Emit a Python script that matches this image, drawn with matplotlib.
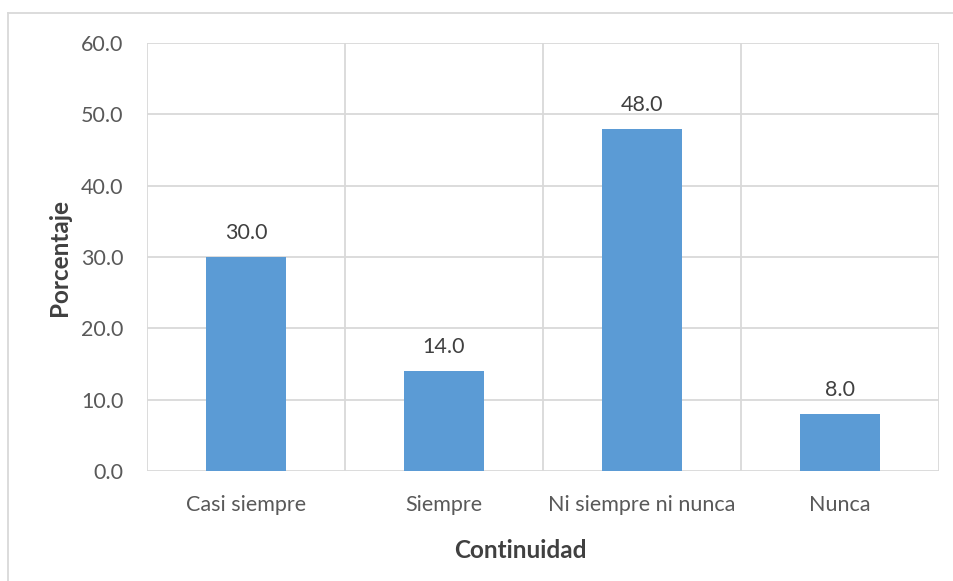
import matplotlib
matplotlib.use("Agg")
import matplotlib.pyplot as plt
from matplotlib.lines import Line2D

categories = ["Casi siempre", "Siempre", "Ni siempre ni nunca", "Nunca"]
percentages = [30.0, 14.0, 48.0, 8.0]
y_ticks = [0, 10, 20, 30, 40, 50, 60]

plt.rcParams["font.family"] = ["Lato", "DejaVu Sans"]
text_color = "#595959"
grid_color = "#d9d9d9"

figure = plt.figure(figsize=(9.54, 5.81), dpi=100)
axes = figure.add_axes([147 / 954, 1 - 471 / 581, 792 / 954, 428 / 581])

x = range(len(categories))
bars = axes.bar(x, percentages, width=0.4, color="#5b9bd5", zorder=3)

for bar, value in zip(bars, percentages):
    axes.annotate(f"{value:.1f}", (bar.get_x() + bar.get_width() / 2, value),
                  xytext=(0, 10), textcoords="offset points",
                  ha="center", va="bottom", fontsize=15.5, color="#404040")

axes.set_xlim(-0.5, len(categories) - 0.5)
axes.set_ylim(0, 60)
axes.set_yticks(y_ticks)
axes.set_yticklabels([f"{t:.1f}" for t in y_ticks])
axes.set_xticks(list(x))
axes.set_xticklabels(categories)

# vertical separators between categories
for boundary in [i + 0.5 for i in range(-1, len(categories))]:
    axes.axvline(boundary, color=grid_color, linewidth=1.3, zorder=1)
axes.yaxis.grid(True, color=grid_color, linewidth=1.3, zorder=1)

for spine in axes.spines.values():
    spine.set_visible(False)

axes.tick_params(axis="both", length=0, labelsize=15.5, labelcolor=text_color)
axes.tick_params(axis="x", pad=17)
axes.tick_params(axis="y", pad=17)

axes.set_xlabel("Continuidad", fontsize=17.5, fontweight="bold", color="#404040")
axes.xaxis.set_label_coords(373 / 792, -68 / 428)
axes.set_ylabel("Porcentaje", fontsize=17.5, fontweight="bold", color="#404040")
axes.yaxis.set_label_coords(-76 / 792, 0.5)

# chart area frame
figure.add_artist(Line2D([8 / 954, 8 / 954], [0, 1 - 13 / 581], color=grid_color, linewidth=1.3))
figure.add_artist(Line2D([8 / 954, 1], [1 - 13 / 581, 1 - 13 / 581], color=grid_color, linewidth=1.3))

figure.savefig("out.png", dpi=100)
